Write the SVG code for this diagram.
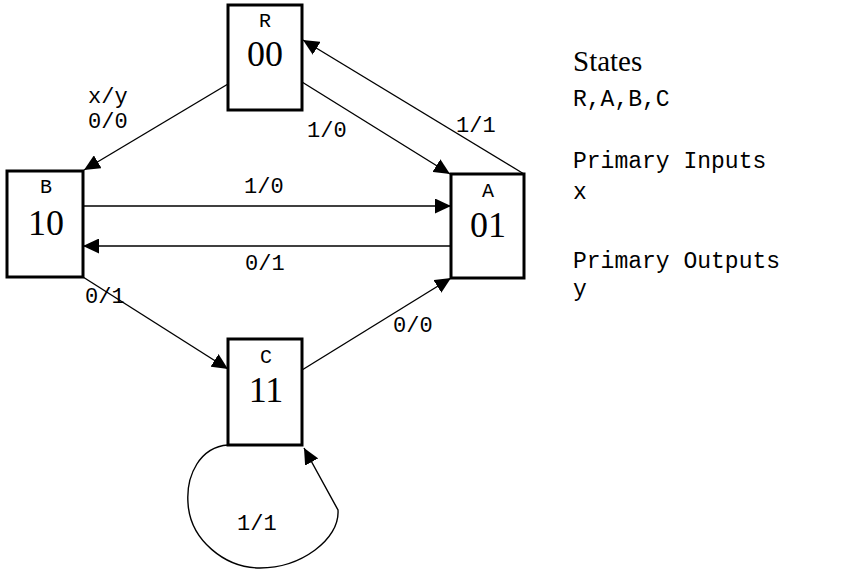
<svg xmlns="http://www.w3.org/2000/svg" width="847" height="572" viewBox="0 0 847 572">
<style>
.box{fill:#fff;stroke:#000;stroke-width:3}
.nm{font-family:"Liberation Mono",monospace;font-size:20px;text-anchor:middle;fill:#000}
.cd{font-family:"Liberation Serif",serif;font-size:36px;text-anchor:middle;fill:#000}
.lb{font-family:"Liberation Mono",monospace;font-size:22px;fill:#000}
.lg{font-family:"Liberation Mono",monospace;font-size:23px;fill:#000}
.ed{fill:none;stroke:#000;stroke-width:1.4}
.ttl{font-family:"Liberation Serif",serif;font-size:29px;fill:#000}
</style>
<defs>
<marker id="ah" markerUnits="userSpaceOnUse" markerWidth="17" markerHeight="15" refX="16" refY="7.5" orient="auto">
<path d="M0,0 L16,7.5 L0,15 z" fill="#000"/>
</marker>
</defs>
<g id="edges">
<path class="ed" d="M228,84 L84,170" marker-end="url(#ah)"/>
<path class="ed" d="M302,82 L450,174" marker-end="url(#ah)"/>
<path class="ed" d="M524,174 L303,40" marker-end="url(#ah)"/>
<path class="ed" d="M83,206 L451,206" marker-end="url(#ah)"/>
<path class="ed" d="M451,246 L83,246" marker-end="url(#ah)"/>
<path class="ed" d="M83,277 L228,369" marker-end="url(#ah)"/>
<path class="ed" d="M302,370 L451,278" marker-end="url(#ah)"/>
<path class="ed" d="M228,445 C200,447 186,475 188,503 C190,540 225,568 260,568 C300,568 340,540 338,510 L304,448" marker-end="url(#ah)"/>
<text class="lb" x="88" y="103">x/y</text>
<text class="lb" x="88" y="128">0/0</text>
<text class="lb" x="307" y="137">1/0</text>
<text class="lb" x="456" y="132">1/1</text>
<text class="lb" x="244" y="193">1/0</text>
<text class="lb" x="245" y="270">0/1</text>
<text class="lb" x="85" y="303">0/1</text>
<text class="lb" x="393" y="332">0/0</text>
<text class="lb" x="237" y="530">1/1</text>
</g>
<g id="R">
<rect class="box" x="228" y="5" width="74" height="105"/>
<text class="nm" x="265" y="27">R</text>
<text class="cd" x="265" y="66">00</text>
</g>
<g id="B">
<rect class="box" x="7" y="171" width="76" height="106"/>
<text class="nm" x="46" y="193">B</text>
<text class="cd" x="46" y="235">10</text>
</g>
<g id="A">
<rect class="box" x="451" y="174" width="73" height="104"/>
<text class="nm" x="488" y="197">A</text>
<text class="cd" x="488" y="237">01</text>
</g>
<g id="C">
<rect class="box" x="228" y="339" width="74" height="106"/>
<text class="nm" x="266" y="363">C</text>
<text class="cd" x="266" y="402">11</text>
</g>
<g id="legend">
<text class="ttl" x="573" y="71">States</text>
<text class="lg" x="573" y="106">R,A,B,C</text>
<text class="lg" x="573" y="168">Primary Inputs</text>
<text class="lg" x="573" y="199">x</text>
<text class="lg" x="573" y="268">Primary Outputs</text>
<text class="lg" x="573" y="296">y</text>
</g>
</svg>
